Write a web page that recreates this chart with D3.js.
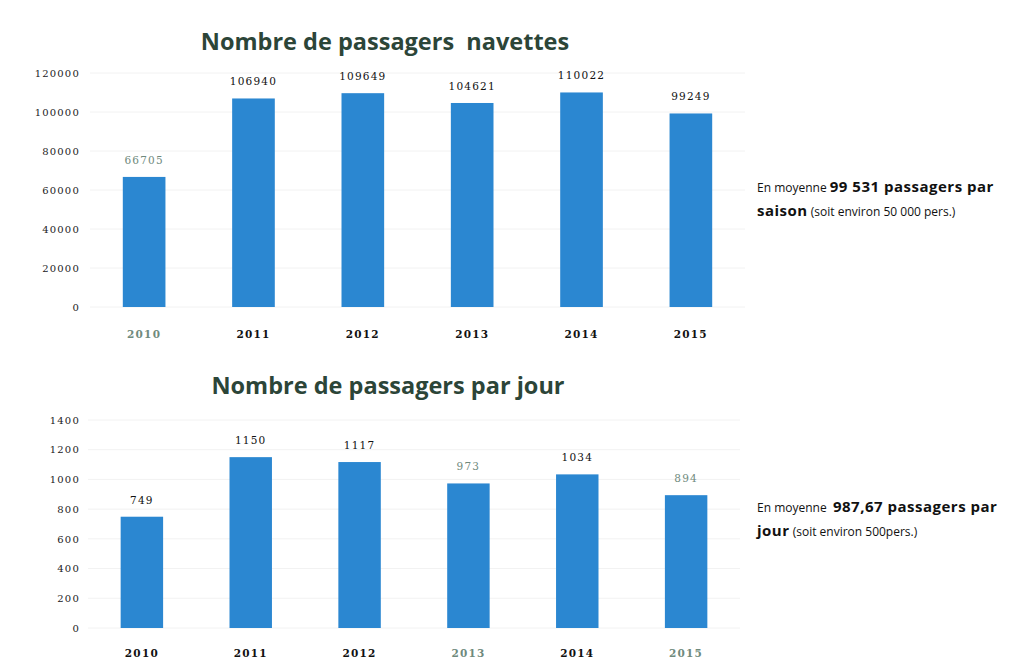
<!DOCTYPE html>
<html>
<head>
<meta charset="utf-8">
<script src="https://cdn.jsdelivr.net/npm/d3@7"></script>
<style>
  body { margin: 0; background: #fff; }
  svg text { font-family: "DejaVu Serif", serif; }
</style>
</head>
<body>
<div id="container"></div>
<script>
/* DATA */
const years = ["2010", "2011", "2012", "2013", "2014", "2015"];
const navettes = [66705, 106940, 109649, 104621, 110022, 99249];
const parJour = [749, 1150, 1117, 973, 1034, 894];
const ticksNavettes = [0, 20000, 40000, 60000, 80000, 100000, 120000];
const ticksJour = [0, 200, 400, 600, 800, 1000, 1200, 1400];
// labels that look faded (grey-green) in the scan
const fadedYearsTop = ["2010"];
const fadedValuesTop = [66705];
const fadedYearsBottom = ["2013", "2015"];
const fadedValuesBottom = [973, 894];

/* CONSTANTS */
const width = 1030, height = 669;
const barColor = "#2b87d1";
const titleColor = "#2c4538";
const faded = "#6f8a7d";

const svg = d3.select("#container")
  .append("svg")
  .attr("width", width)
  .attr("height", height);

function drawChart(cfg) {
  const x = d3.scaleBand()
    .domain(years)
    .range(cfg.xRange)
    .paddingInner(0.61)
    .paddingOuter(0.3);

  const y = d3.scaleLinear()
    .domain([0, d3.max(cfg.ticks)])
    .range(cfg.yRange);

  const g = svg.append("g");

  // title
  g.append("text")
    .attr("x", cfg.titleX)
    .attr("y", cfg.titleY)
    .attr("text-anchor", "middle")
    .style("font-family", "'Open Sans', sans-serif")
    .style("font-weight", "bold")
    .style("font-size", "23.5px")
    .style("white-space", "pre")
    .attr("fill", titleColor)
    .text(cfg.title);

  // faint grid
  g.selectAll("line.grid")
    .data(cfg.ticks)
    .join("line")
    .attr("class", "grid")
    .attr("x1", cfg.xRange[0])
    .attr("x2", cfg.xRange[1])
    .attr("y1", d => y(d))
    .attr("y2", d => y(d))
    .attr("stroke", "#f2f2f2");

  // y axis
  const yAxis = d3.axisLeft(y).tickValues(cfg.ticks).tickFormat(d3.format("d")).tickSize(0).tickPadding(0);
  const ya = g.append("g")
    .attr("transform", `translate(${cfg.yLabelX},0)`)
    .call(yAxis);
  ya.select(".domain").remove();
  ya.selectAll("text")
    .style("font-size", "10px")
    .style("letter-spacing", "1.2px")
    .attr("fill", "#222");

  // bars
  g.selectAll("rect.bar")
    .data(cfg.values)
    .join("rect")
    .attr("class", "bar")
    .attr("x", (d, i) => x(years[i]))
    .attr("width", x.bandwidth())
    .attr("y", d => y(d))
    .attr("height", d => y(0) - y(d))
    .attr("fill", barColor);

  // value labels
  g.selectAll("text.val")
    .data(cfg.values)
    .join("text")
    .attr("class", "val")
    .attr("x", (d, i) => x(years[i]) + x.bandwidth() / 2)
    .attr("y", d => y(d) - 13)
    .attr("text-anchor", "middle")
    .style("font-size", "10.5px")
    .style("letter-spacing", "1.2px")
    .attr("fill", d => cfg.fadedValues.includes(d) ? faded : "#111")
    .text(d => d);

  // x axis
  const xAxis = d3.axisBottom(x).tickSize(0).tickPadding(0);
  const xa = g.append("g")
    .attr("transform", `translate(0,${cfg.xLabelY})`)
    .call(xAxis);
  xa.select(".domain").remove();
  xa.selectAll("text")
    .style("font-size", "10.5px")
    .style("font-weight", "bold")
    .style("letter-spacing", "1.2px")
    .attr("fill", d => cfg.fadedYears.includes(d) ? faded : "#111");

  // side note
  const note = svg.append("text")
    .attr("x", 757)
    .attr("y", cfg.noteY)
    .style("font-family", "'Open Sans', sans-serif")
    .style("font-size", "12px")
    .style("white-space", "pre")
    .attr("fill", "#111");
  note.append("tspan").attr("x", 757).text(cfg.note[0][0]);
  note.append("tspan").style("font-weight", "bold").style("font-size", "15px").style("letter-spacing", "0.5px").text(cfg.note[0][1]);
  note.append("tspan").attr("x", 757).attr("dy", 24).style("font-weight", "bold").style("font-size", "15px").style("letter-spacing", "0.5px").text(cfg.note[1][0]);
  note.append("tspan").text(cfg.note[1][1]);
}

drawChart({
  title: "Nombre de passagers  navettes",
  titleX: 385, titleY: 50,
  values: navettes,
  ticks: ticksNavettes,
  xRange: [90, 745],
  yRange: [307, 73],
  yLabelX: 80,
  xLabelY: 331,
  fadedYears: fadedYearsTop,
  fadedValues: fadedValuesTop,
  noteY: 192,
  note: [["En moyenne ", "99 531 passagers par"], ["saison", " (soit environ 50 000 pers.)"]]
});

drawChart({
  title: "Nombre de passagers par jour",
  titleX: 388, titleY: 394,
  values: parJour,
  ticks: ticksJour,
  xRange: [88, 740],
  yRange: [628, 420],
  yLabelX: 80,
  xLabelY: 650,
  fadedYears: fadedYearsBottom,
  fadedValues: fadedValuesBottom,
  noteY: 512,
  note: [["En moyenne  ", "987,67 passagers par"], ["jour", " (soit environ 500pers.)"]]
});
</script>
</body>
</html>
